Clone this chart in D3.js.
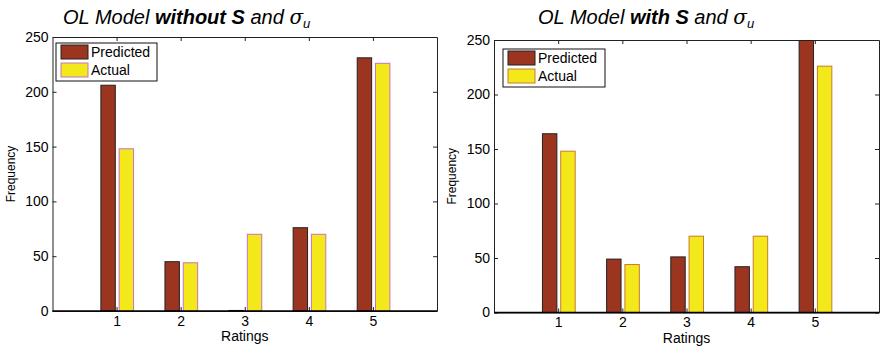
<!DOCTYPE html>
<meta charset="utf-8">
<title>OL Model ratings</title>
<style>
  body { margin: 0; background: #fff; }
  svg { display: block; font-family: "Liberation Sans", Arial, sans-serif; }
  .tick text { font-size: 14px; fill: #000; }
  .legend text { font-size: 14px; }
</style>
<body>
<script src="https://cdn.jsdelivr.net/npm/d3@7"></script>
<script>
  // values
  const ratings = [1, 2, 3, 4, 5];
  const actualCounts = [148, 44, 70, 70, 226];
  const predictedWithout = [206, 45, 0.5, 76, 231];
  const predictedWith = [164, 49, 51, 42, 262];
  const yTicks = [0, 50, 100, 150, 200, 250];
  const seriesNames = ["Predicted", "Actual"];

  const width = 880, height = 346;
  const predColor = "#9b3520", actColor = "#f2e81a";

  const svg = d3.select("body").append("svg")
    .attr("width", width)
    .attr("height", height);

  const panels = [
    { bold: "without S", predicted: predictedWithout, left: 52.5, right: 437, top: 37, bottom: 311,
      titleX: 63, actStroke: "#c870c8", legend: { x: 56, y: 43, w: 101, h: 38 } },
    { bold: "with S", predicted: predictedWith, left: 494, right: 879, top: 40, bottom: 312.5,
      titleX: 538, actStroke: "#c87a32", legend: { x: 503, y: 49, w: 102, h: 38 } }
  ];

  panels.forEach((p, i) => {
    const x = d3.scaleLinear().domain([0, 6]).range([p.left, p.right]);
    const y = d3.scaleLinear().domain([0, 250]).range([p.bottom, p.top]);
    const g = svg.append("g");

    g.append("clipPath").attr("id", "clip" + i)
      .append("rect")
      .attr("x", p.left).attr("y", p.top)
      .attr("width", p.right - p.left).attr("height", p.bottom - p.top);

    const bars = g.append("g").attr("clip-path", `url(#clip${i})`);
    bars.selectAll(".pred").data(ratings).enter().append("rect")
      .attr("class", "pred")
      .attr("x", d => x(d - 0.245))
      .attr("width", x(0.225) - x(0))
      .attr("y", (d, j) => y(p.predicted[j]))
      .attr("height", (d, j) => y(0) - y(p.predicted[j]))
      .attr("fill", predColor)
      .attr("stroke", "#222")
      .attr("stroke-width", 1);
    bars.selectAll(".act").data(ratings).enter().append("rect")
      .attr("class", "act")
      .attr("x", d => x(d + 0.04))
      .attr("width", x(0.225) - x(0))
      .attr("y", (d, j) => y(actualCounts[j]))
      .attr("height", (d, j) => y(0) - y(actualCounts[j]))
      .attr("fill", actColor)
      .attr("stroke", p.actStroke)
      .attr("stroke-width", 1);

    // axes, matlab style: ticks inside on all four sides
    const ax = (gen, tx, ty) => g.append("g")
      .attr("transform", `translate(${tx},${ty})`)
      .call(gen)
      .call(s => s.select(".domain").attr("stroke", "#222"))
      .call(s => s.selectAll(".tick line").attr("stroke", "#222"));

    ax(d3.axisBottom(x).tickValues(ratings).tickSizeInner(-4).tickSizeOuter(0).tickPadding(5).tickFormat(d3.format("d")), 0, p.bottom);
    ax(d3.axisTop(x).tickValues(ratings).tickSizeInner(-4).tickSizeOuter(0).tickFormat(""), 0, p.top);
    ax(d3.axisLeft(y).tickValues(yTicks).tickSizeInner(-4).tickSizeOuter(0).tickPadding(4), p.left, 0);
    ax(d3.axisRight(y).tickValues(yTicks).tickSizeInner(-4).tickSizeOuter(0).tickFormat(""), p.right, 0);
    g.append("line")
      .attr("x1", p.left).attr("x2", p.right)
      .attr("y1", p.bottom).attr("y2", p.bottom)
      .attr("stroke", "#000").attr("stroke-width", 1.5);

    // labels
    g.append("text")
      .attr("x", (p.left + p.right) / 2)
      .attr("y", p.bottom + 30)
      .attr("text-anchor", "middle")
      .attr("font-size", 14)
      .text("Ratings");
    g.append("text")
      .attr("transform", `translate(${p.left - 38},${(p.top + p.bottom) / 2}) rotate(-90)`)
      .attr("text-anchor", "middle")
      .attr("font-size", 12)
      .text("Frequency");

    const title = g.append("text")
      .attr("x", p.titleX)
      .attr("y", 24)
      .attr("font-size", 20)
      .attr("font-style", "italic");
    title.append("tspan").text("OL Model ");
    title.append("tspan").attr("font-weight", "bold").text(p.bold);
    title.append("tspan").text(" and ");
    title.append("tspan").attr("font-family", "'DejaVu Serif', serif").text("σ");
    title.append("tspan").attr("font-size", 13).attr("dy", 4).text("u");

    // legend
    const lg = g.append("g").attr("class", "legend")
      .attr("transform", `translate(${p.legend.x},${p.legend.y})`);
    lg.append("rect")
      .attr("width", p.legend.w).attr("height", p.legend.h)
      .attr("fill", "#fff").attr("stroke", "#111");
    seriesNames.forEach((name, k) => {
      lg.append("rect")
        .attr("x", 5).attr("y", 2 + k * 18)
        .attr("width", 27).attr("height", 14)
        .attr("fill", k === 0 ? predColor : actColor)
        .attr("stroke", k === 0 ? "#222" : p.actStroke);
      lg.append("text")
        .attr("x", 35).attr("y", 14 + k * 18)
        .text(name);
    });
  });
</script>
</body>
